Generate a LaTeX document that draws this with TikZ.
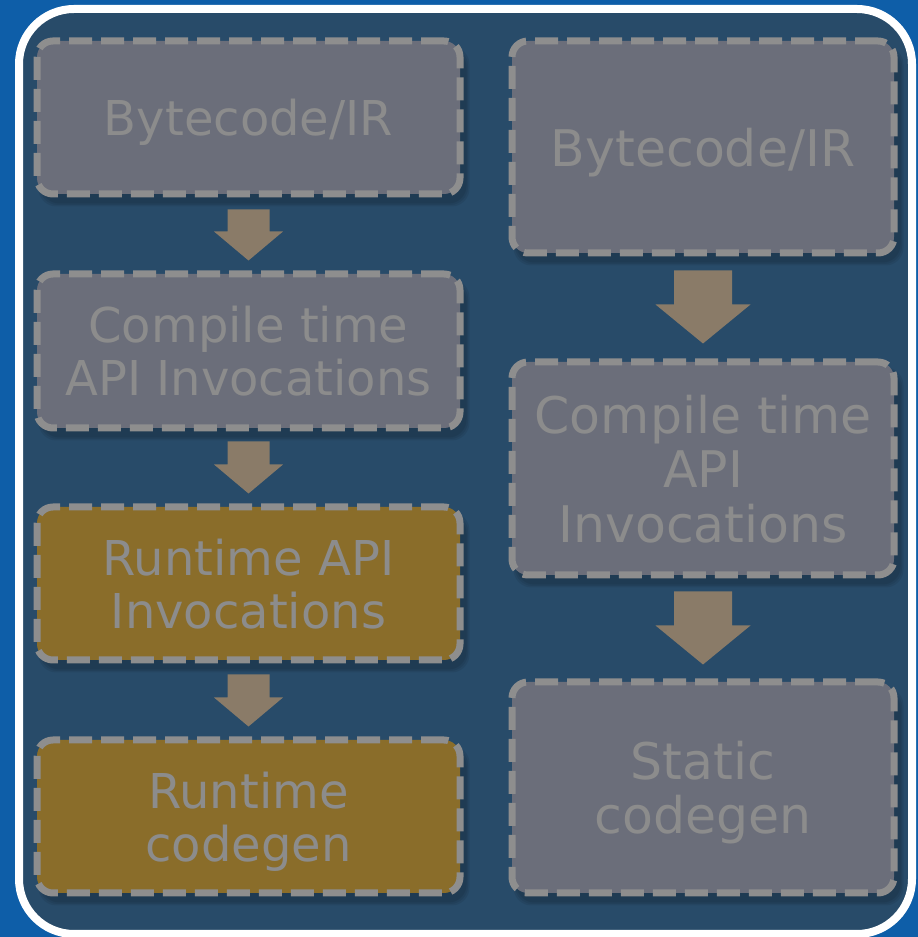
\documentclass[tikz,border=0pt]{standalone}
\usepackage{fontspec}
\setmainfont{DejaVu Sans}
\usetikzlibrary{calc}

\definecolor{pageblue}{RGB}{14,94,168}
\definecolor{panelnavy}{RGB}{40,75,105}
\definecolor{boxgray}{RGB}{107,110,122}
\definecolor{boxgold}{RGB}{138,109,42}
\definecolor{dashgray}{RGB}{142,142,142}
\definecolor{labelgray}{RGB}{140,140,140}
\definecolor{arrowtan}{RGB}{138,123,104}

\pgfdeclarelayer{panel}
\pgfdeclarelayer{shade}
\pgfsetlayers{panel,shade,main}

\tikzset{
  stagebox/.style={rectangle, rounded corners=16pt, draw=dashgray, line width=7pt,
    dash pattern=on 23pt off 9pt, fill=boxgray, text=labelgray, align=center,
    inner sep=0pt, text depth=0pt},
  leftbox/.style={stagebox, minimum width=423pt,
    font=\fontsize{48}{53}\selectfont},
  rightbox/.style={stagebox, minimum width=382pt,
    font=\fontsize{50.5}{54.5}\selectfont},
  runtime/.style={fill=boxgold},
  arrowfill/.style={fill=arrowtan}
}

% soft shadow falling below and to the right of a box
\newcommand{\softshadow}[1]{%
  \begin{pgfonlayer}{shade}
    \foreach \s in {0,1.5,3} {
      \fill[black, opacity=0.07, rounded corners=18pt]
        ($(#1.south west)+(8-\s,-6-\s)$) rectangle ($(#1.north east)+(3+\s,-12+\s)$);
    }
  \end{pgfonlayer}}

% block arrow between two stacked nodes:
% #1 upper node, #2 lower node, #3 gap below #1, #4 gap above #2,
% #5 head length, #6 shaft half-width, #7 head half-width
\newcommand{\blockarrow}[7]{%
  \fill[arrowfill]
    ($(#1.south)+(-#6,-#3)$) -- ($(#1.south)+(#6,-#3)$)
    -- ($(#2.north)+(#6,#4+#5)$) -- ($(#2.north)+(#7,#4+#5)$)
    -- ($(#2.north)+(0,#4)$)
    -- ($(#2.north)+(-#7,#4+#5)$) -- ($(#2.north)+(-#6,#4+#5)$) -- cycle;}

\begin{document}
\begin{tikzpicture}[x=1pt,y=1pt]
  \useasboundingbox (0,0) rectangle (918,937);
  % page background and framed panel
  \begin{pgfonlayer}{panel}
    \fill[pageblue] (0,0) rectangle (918,937);
    \draw[white, line width=8pt, fill=panelnavy, rounded corners=55pt]
      (19,3) rectangle (912,928);
  \end{pgfonlayer}

  % left column: runtime code generation
  \node[leftbox, minimum height=153pt] (L1) at (248.5,819.5) {Bytecode/IR};
  \node[leftbox, minimum height=154pt] (L2) at (248.5,586) {Compile time\\API Invocations};
  \node[leftbox, runtime, minimum height=153pt] (L3) at (248.5,353.5) {Runtime API\\Invocations};
  \node[leftbox, runtime, minimum height=153pt] (L4) at (248.5,120.5) {Runtime\\codegen};

  % right column: static code generation
  \node[rightbox, minimum height=212pt] (R1) at (703,790) {Bytecode/IR};
  \node[rightbox, minimum height=213pt] (R2) at (703,468.5) {Compile time\\API\\Invocations};
  \node[rightbox, minimum height=211pt] (R3) at (703,149.5) {Static\\codegen};

  \foreach \b in {L1,L2,L3,L4,R1,R2,R3} {\softshadow{\b}}

  % flow arrows
  \blockarrow{L1}{L2}{12}{10}{29}{21}{34.5}
  \blockarrow{L2}{L3}{10}{10}{29}{21}{34.5}
  \blockarrow{L3}{L4}{11}{10}{29}{21}{34.5}
  \blockarrow{R1}{R2}{14}{15}{39}{29}{47.5}
  \blockarrow{R2}{R3}{13}{14}{39}{29}{47.5}
\end{tikzpicture}
\end{document}
